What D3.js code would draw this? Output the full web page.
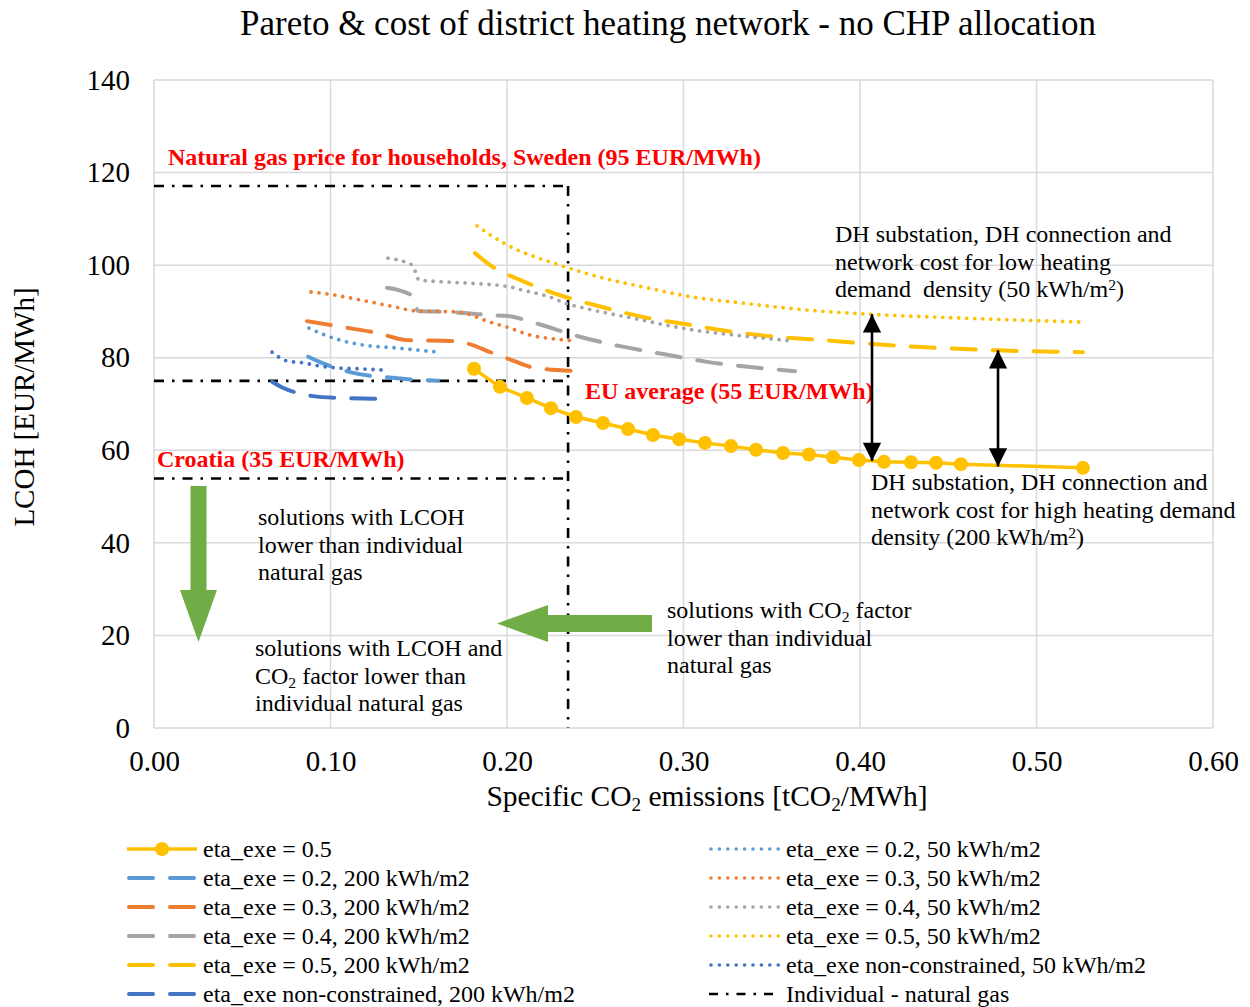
<!DOCTYPE html>
<html>
<head>
<meta charset="utf-8">
<script src="https://cdn.jsdelivr.net/npm/d3@7/dist/d3.min.js"></script>
<style>
  html, body { margin: 0; padding: 0; background: #fff; }
  svg { display: block; font-family: "Liberation Serif", "Times New Roman", serif; }
  svg text { white-space: pre; }
</style>
</head>
<body>
<div id="chart"></div>
<script>
// ---- Axis ticks ----
const xTicks = [0, 0.1, 0.2, 0.3, 0.4, 0.5, 0.6];
const yTicks = [0, 20, 40, 60, 80, 100, 120, 140];

// ---- Pareto front, eta_exe = 0.5 (with markers) ---- [tCO2/MWh, EUR/MWh]
const eta05 = [
  [0.1813, 77.6], [0.1960, 73.7], [0.2113, 71.3], [0.2249, 69.1], [0.2391, 67.2],
  [0.2544, 65.9], [0.2686, 64.6], [0.2827, 63.3], [0.2975, 62.4], [0.3122, 61.6],
  [0.3269, 60.9], [0.3411, 60.1], [0.3564, 59.4], [0.3711, 59.1], [0.3847, 58.5],
  [0.3994, 57.9], [0.4136, 57.5], [0.4289, 57.4], [0.4431, 57.3], [0.4572, 57.0],
  [0.5263, 56.2]
];

// ---- Including DH costs, high heating demand density (200 kWh/m2) ----
const eta02_200 = [[0.0873, 80.2], [0.0969, 78.6], [0.1110, 76.9], [0.1365, 75.6], [0.1609, 75.0]];
const eta03_200 = [[0.0867, 87.9], [0.1025, 86.9], [0.1269, 85.3], [0.1433, 83.8], [0.1688, 83.6],
  [0.1762, 83.2], [0.1920, 81.0], [0.2000, 79.9], [0.2159, 77.8], [0.2402, 77.1]];
const eta04_200 = [[0.1320, 95.1], [0.1467, 93.3], [0.1496, 90.1], [0.1666, 89.9], [0.1915, 89.2],
  [0.2006, 89.0], [0.2159, 87.5], [0.2397, 84.7], [0.2640, 82.5], [0.2884, 80.8],
  [0.3133, 79.1], [0.3377, 78.0], [0.3632, 77.1]];
const eta05_200 = [[0.1819, 102.6], [0.1920, 99.6], [0.2074, 96.8], [0.2300, 93.5], [0.2544, 90.9],
  [0.2770, 88.8], [0.3037, 87.1], [0.3280, 85.6], [0.3530, 84.5], [0.3717, 84.0],
  [0.4170, 82.7], [0.4776, 81.6], [0.5263, 81.2]];
const etaNC_200 = [[0.0669, 74.8], [0.0730, 73.5], [0.0810, 72.4], [0.0900, 71.7], [0.1054, 71.3], [0.1320, 71.1]];

// ---- Including DH costs, low heating demand density (50 kWh/m2) ----
const eta02_50 = [[0.0878, 86.4], [0.0969, 84.9], [0.1054, 83.8], [0.1195, 82.7], [0.1377, 82.1], [0.1609, 81.2]];
const eta03_50 = [[0.0890, 94.2], [0.0980, 93.8], [0.1167, 92.5], [0.1337, 91.2], [0.1490, 90.1],
  [0.1717, 89.9], [0.1904, 87.7], [0.2017, 86.4], [0.2130, 84.9], [0.2283, 84.0], [0.2397, 83.6]];
const eta04_50 = [[0.1326, 101.5], [0.1422, 100.7], [0.1462, 100.0], [0.1484, 98.3], [0.1500, 96.8],
  [0.1637, 96.4], [0.1830, 96.0], [0.2017, 95.3], [0.2090, 94.6], [0.2244, 93.1], [0.2329, 91.8],
  [0.2487, 90.3], [0.2680, 88.8], [0.3054, 86.0], [0.3337, 84.7], [0.3620, 83.6]];
const eta05_50 = [[0.1830, 108.5], [0.1915, 106.3], [0.1989, 104.6], [0.2300, 100.0], [0.2527, 97.4],
  [0.2793, 95.1], [0.3054, 93.1], [0.3337, 91.8], [0.3700, 90.3], [0.4057, 89.4], [0.4550, 88.6], [0.5263, 87.7]];
const etaNC_50 = [[0.0669, 81.2], [0.0754, 79.3], [0.0844, 78.9], [0.0940, 78.2], [0.1037, 77.8], [0.1167, 77.6], [0.1309, 77.3]];

// ---- Individual natural gas reference ----
const gasCO2 = 0.2346;                 // tCO2/MWh
const gasLCOH = [117.1, 75.0, 53.9];   // Sweden, EU average, Croatia
const gasLabels = [
  "Natural gas price for households, Sweden (95 EUR/MWh)",
  "EU average (55 EUR/MWh)",
  "Croatia (35 EUR/MWh)"
];

// ---- Gap between Pareto front and DH-cost curves: [x, top, bottom] ----
const gapArrows = [[0.4068, 89.4, 57.7], [0.4782, 81.6, 56.5]];

// ---- Colours ----
const C = { yellow: "#FFC000", orange: "#ED7D31", gray: "#A5A5A5", lblue: "#5B9BD5", dblue: "#4472C4", green: "#70AD47", red: "#FF0000" };

const W = 1250, H = 1007;
const plot = { left: 154, right: 1213, top: 80, bottom: 728 };
const FS = 24;   // body text size

const svg = d3.select("#chart").append("svg").attr("width", W).attr("height", H);

const x = d3.scaleLinear().domain([0, 0.6]).range([plot.left, plot.right]);
const y = d3.scaleLinear().domain([0, 140]).range([plot.bottom, plot.top]);

// gridlines
const grid = svg.append("g");
grid.selectAll("line.v").data(xTicks).join("line")
  .attr("x1", d => x(d)).attr("x2", d => x(d)).attr("y1", plot.top).attr("y2", plot.bottom)
  .attr("stroke", "#D9D9D9").attr("stroke-width", 1.5);
grid.selectAll("line.h").data(yTicks).join("line")
  .attr("x1", plot.left).attr("x2", plot.right).attr("y1", d => y(d)).attr("y2", d => y(d))
  .attr("stroke", "#D9D9D9").attr("stroke-width", 1.5);

// axes (labels only)
const xAxis = d3.axisBottom(x).tickValues(xTicks).tickFormat(d3.format(".2f")).tickSize(0).tickPadding(25);
const gx = svg.append("g").attr("transform", `translate(0,${plot.bottom})`).call(xAxis);
const yAxis = d3.axisLeft(y).tickValues(yTicks).tickFormat(d3.format("d")).tickSize(0).tickPadding(24);
const gy = svg.append("g").attr("transform", `translate(${plot.left},0)`).call(yAxis);
[gx, gy].forEach(g => {
  g.select(".domain").remove();
  g.selectAll("text").attr("font-family", "Liberation Serif").attr("font-size", 29).attr("fill", "#000");
});
gx.selectAll("text").attr("dy", "0.62em");

// rich text with sub/superscripts
function richText(parent, px, py, parts, opts = {}) {
  const size = opts.size || FS;
  const t = parent.append("text").attr("x", px).attr("y", py)
    .attr("font-size", size).attr("fill", opts.fill || "#000")
    .attr("font-weight", opts.weight || "normal")
    .attr("text-anchor", opts.anchor || "start");
  if (opts.transform) t.attr("transform", opts.transform);
  parts.forEach(p => {
    const s = typeof p === "string" ? { t: p } : p;
    const ts = t.append("tspan").text(s.t);
    if (s.sub) ts.attr("font-size", size * 0.65).attr("baseline-shift", "-25%");
    if (s.sup) ts.attr("font-size", size * 0.65).attr("baseline-shift", "45%");
  });
  return t;
}

// title
svg.append("text").attr("x", 668).attr("y", 35).attr("text-anchor", "middle")
  .attr("font-size", 35).text("Pareto & cost of district heating network - no CHP allocation");

// axis titles
richText(svg, 707, 806, ["Specific CO", { t: "2", sub: true }, " emissions [tCO", { t: "2", sub: true }, "/MWh]"],
  { size: 29.5, anchor: "middle" });
richText(svg, 0, 0, ["LCOH [EUR/MWh]"], { size: 29, anchor: "middle", transform: "translate(34,407) rotate(-90)" });

// natural gas reference lines (dash-dot)
const dashDot = "10,8,2.5,8";
const gasG = svg.append("g").attr("stroke", "#000").attr("stroke-width", 2.6).attr("fill", "none").attr("stroke-dasharray", dashDot);
gasG.selectAll("line.h").data(gasLCOH).join("line")
  .attr("x1", x(0)).attr("x2", x(gasCO2)).attr("y1", d => y(d)).attr("y2", d => y(d));
gasG.append("line").attr("x1", x(gasCO2)).attr("x2", x(gasCO2))
  .attr("y1", y(d3.max(gasLCOH))).attr("y2", y(0));

// DH-cost curves
const lineGen = d3.line().x(d => x(d[0])).y(d => y(d[1])).curve(d3.curveMonotoneX);
const DASH = "24,17", DOT = "0,8";

const series = [
  { data: eta02_200, color: C.lblue, dash: DASH, w: 4 },
  { data: eta03_200, color: C.orange, dash: DASH, w: 4 },
  { data: eta04_200, color: C.gray, dash: DASH, w: 4 },
  { data: eta05_200, color: C.yellow, dash: DASH, w: 4 },
  { data: etaNC_200, color: C.dblue, dash: DASH, w: 4 },
  { data: eta02_50, color: C.lblue, dash: DOT, w: 3.8 },
  { data: eta03_50, color: C.orange, dash: DOT, w: 3.8 },
  { data: eta04_50, color: C.gray, dash: DOT, w: 3.8 },
  { data: eta05_50, color: C.yellow, dash: DOT, w: 3.8 },
  { data: etaNC_50, color: C.dblue, dash: DOT, w: 3.8 }
];
svg.append("g").selectAll("path").data(series).join("path")
  .attr("d", d => lineGen(d.data)).attr("fill", "none")
  .attr("stroke", d => d.color).attr("stroke-width", d => d.w)
  .attr("stroke-dasharray", d => d.dash).attr("stroke-linecap", "round");

// main Pareto front with markers
const straight = d3.line().x(d => x(d[0])).y(d => y(d[1]));
svg.append("path").attr("d", straight(eta05)).attr("fill", "none")
  .attr("stroke", C.yellow).attr("stroke-width", 3.5);
svg.append("g").selectAll("circle").data(eta05).join("circle")
  .attr("cx", d => x(d[0])).attr("cy", d => y(d[1])).attr("r", 7).attr("fill", C.yellow);

// red price labels
richText(svg, 168, 165, [gasLabels[0]], { fill: C.red, weight: "bold" });
richText(svg, 585, 399, [gasLabels[1]], { fill: C.red, weight: "bold" });
richText(svg, 157, 467, [gasLabels[2]], { fill: C.red, weight: "bold" });

// black double arrows
const defs = svg.append("defs");
function arrowHead(id, orient) {
  defs.append("marker").attr("id", id).attr("viewBox", "0 0 10 10").attr("refX", 10).attr("refY", 5)
    .attr("markerWidth", 8).attr("markerHeight", 7).attr("markerUnits", "strokeWidth")
    .attr("orient", orient)
    .append("path").attr("d", "M0,0 L10,5 L0,10 Z").attr("fill", "#000");
}
arrowHead("ahEnd", "auto");
arrowHead("ahStart", "auto-start-reverse");
svg.append("g").selectAll("line").data(gapArrows).join("line")
  .attr("x1", d => x(d[0])).attr("x2", d => x(d[0]))
  .attr("y1", d => y(d[1])).attr("y2", d => y(d[2]))
  .attr("stroke", "#000").attr("stroke-width", 2.6)
  .attr("marker-start", "url(#ahStart)").attr("marker-end", "url(#ahEnd)");

// green block arrows
svg.append("path").attr("fill", C.green)
  .attr("d", "M190.5,486 L206.5,486 L206.5,590 L217,590 L198.5,642 L180,590 L190.5,590 Z");
svg.append("path").attr("fill", C.green)
  .attr("d", "M652,615 L652,632 L548,632 L548,642 L497,623.5 L548,605 L548,615 Z");

// annotations
function block(px, py, lines, lh = 27.5) {
  lines.forEach((ln, i) => richText(svg, px, py + i * lh, ln));
}
block(258, 525, [["solutions with LCOH"], ["lower than individual"], ["natural gas"]]);
block(255, 656, [["solutions with LCOH and"], ["CO", { t: "2", sub: true }, " factor lower than"], ["individual natural gas"]]);
block(667, 618, [["solutions with CO", { t: "2", sub: true }, " factor"], ["lower than individual"], ["natural gas"]]);
block(835, 242, [["DH substation, DH connection and"], ["network cost for low heating"], ["demand  density (50 kWh/m", { t: "2", sup: true }, ")"]]);
block(871, 490, [["DH substation, DH connection and"], ["network cost for high heating demand"], ["density (200 kWh/m", { t: "2", sup: true }, ")"]]);

// legend
const legendLeft = [
  { label: "eta_exe = 0.5", color: C.yellow, kind: "marker" },
  { label: "eta_exe = 0.2, 200 kWh/m2", color: C.lblue, kind: "dash" },
  { label: "eta_exe = 0.3, 200 kWh/m2", color: C.orange, kind: "dash" },
  { label: "eta_exe = 0.4, 200 kWh/m2", color: C.gray, kind: "dash" },
  { label: "eta_exe = 0.5, 200 kWh/m2", color: C.yellow, kind: "dash" },
  { label: "eta_exe non-constrained, 200 kWh/m2", color: C.dblue, kind: "dash" }
];
const legendRight = [
  { label: "eta_exe = 0.2, 50 kWh/m2", color: C.lblue, kind: "dot" },
  { label: "eta_exe = 0.3, 50 kWh/m2", color: C.orange, kind: "dot" },
  { label: "eta_exe = 0.4, 50 kWh/m2", color: C.gray, kind: "dot" },
  { label: "eta_exe = 0.5, 50 kWh/m2", color: C.yellow, kind: "dot" },
  { label: "eta_exe non-constrained, 50 kWh/m2", color: C.dblue, kind: "dot" },
  { label: "Individual - natural gas", color: "#000", kind: "dashdot" }
];
function drawLegend(items, x0, textX) {
  items.forEach((it, i) => {
    const cy = 849 + i * 29;
    const g = svg.append("g");
    if (it.kind === "marker") {
      g.append("line").attr("x1", x0).attr("x2", x0 + 70).attr("y1", cy).attr("y2", cy)
        .attr("stroke", it.color).attr("stroke-width", 3.5);
      g.append("circle").attr("cx", x0 + 35).attr("cy", cy).attr("r", 7).attr("fill", it.color);
    } else if (it.kind === "dash") {
      g.append("line").attr("x1", x0 + 2).attr("x2", x0 + 68).attr("y1", cy).attr("y2", cy)
        .attr("stroke", it.color).attr("stroke-width", 4).attr("stroke-linecap", "round")
        .attr("stroke-dasharray", "24,17");
    } else if (it.kind === "dot") {
      g.append("line").attr("x1", x0 + 2).attr("x2", x0 + 70).attr("y1", cy).attr("y2", cy)
        .attr("stroke", it.color).attr("stroke-width", 3.6).attr("stroke-linecap", "round")
        .attr("stroke-dasharray", "0,8.4");
    } else {
      g.append("line").attr("x1", x0).attr("x2", x0 + 70).attr("y1", cy).attr("y2", cy)
        .attr("stroke", it.color).attr("stroke-width", 2.6).attr("stroke-dasharray", "9,8,2.5,8");
    }
    richText(svg, textX, cy + 8, [it.label]);
  });
}
drawLegend(legendLeft, 127, 203);
drawLegend(legendRight, 709, 786);
</script>
</body>
</html>
